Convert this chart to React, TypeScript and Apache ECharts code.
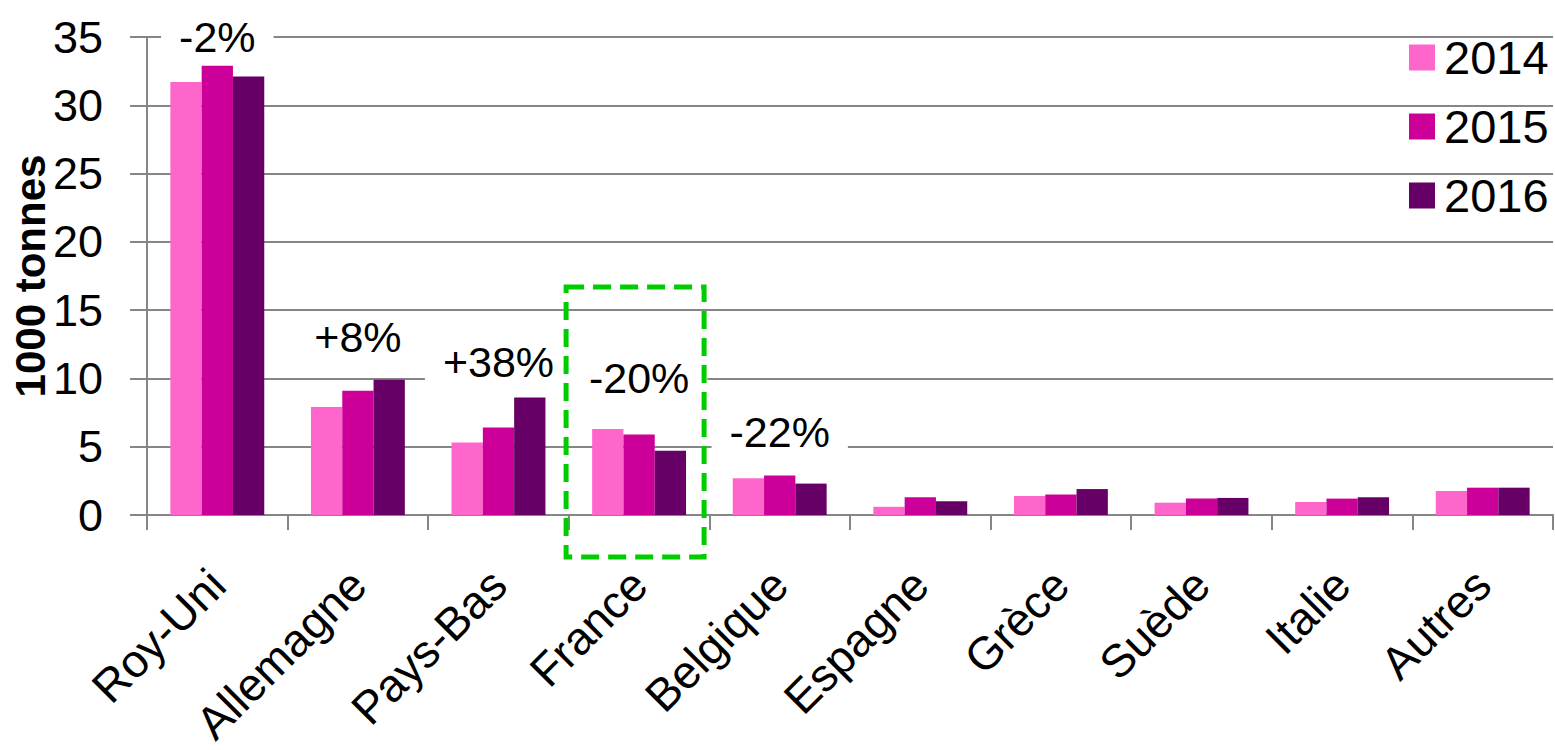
import React, { useEffect, useRef } from "react";
import * as echarts from "echarts";

const categories = ["Roy-Uni", "Allemagne", "Pays-Bas", "France", "Belgique", "Espagne", "Grèce", "Suède", "Italie", "Autres"];
const seriesNames = ["2014", "2015", "2016"];
const values2014 = [31.7, 7.9, 5.3, 6.3, 2.7, 0.6, 1.4, 0.9, 0.95, 1.75];
const values2015 = [32.9, 9.1, 6.4, 5.9, 2.9, 1.3, 1.5, 1.2, 1.2, 2.0];
const values2016 = [32.1, 9.9, 8.6, 4.7, 2.3, 1.0, 1.9, 1.25, 1.3, 2.0];
const changeLabels = ["-2%", "+8%", "+38%", "-20%", "-22%"];
const changeLabelY = [35, 13, 11.2, 10, 6.1];
const highlightIndex = 3;
const highlightTop = 16.7;

const colors = ["#FF66CC", "#CC0099", "#660066"];
const FONT = "'Liberation Sans', Arial, sans-serif";
const GRAY = "#868686";

export default function App() {
  const ref = useRef<HTMLDivElement>(null);
  useEffect(() => {
    if (!ref.current) return;
    const chart = echarts.init(ref.current, undefined, { renderer: "svg" });
    const allValues = [values2014, values2015, values2016];
    chart.setOption({
      animation: false,
      textStyle: { fontFamily: FONT },
      grid: { left: 147, right: 2, top: 37, bottom: 235, containLabel: false, outerBoundsMode: "none" },
      legend: {
        data: seriesNames,
        orient: "vertical",
        left: 1409,
        top: 34,
        padding: 0,
        itemWidth: 26,
        itemHeight: 26,
        itemGap: 22,
        icon: "rect",
        selectedMode: false,
        textStyle: { fontSize: 47, lineHeight: 46, color: "#000", fontFamily: FONT, padding: [0, 0, 0, 4] },
      },
      xAxis: {
        type: "category",
        data: categories,
        axisLine: { lineStyle: { color: GRAY, width: 2 } },
        axisTick: { show: true, length: 15, lineStyle: { color: GRAY, width: 2 } },
        axisLabel: { rotate: 45, fontSize: 46, color: "#000", margin: 62, fontFamily: FONT, interval: 0 },
      },
      yAxis: {
        type: "value",
        min: 0,
        max: 35,
        interval: 5,
        name: "1000 tonnes",
        nameLocation: "middle",
        nameGap: 95,
        nameMoveOverlap: false,
        nameTextStyle: { fontSize: 42, lineHeight: 44, fontWeight: "bold", color: "#000", fontFamily: FONT },
        axisLine: { show: true, lineStyle: { color: GRAY, width: 2 } },
        axisTick: { show: true, length: 17, lineStyle: { color: GRAY, width: 2 } },
        axisLabel: { fontSize: 45, color: "#000", margin: 44, fontFamily: FONT },
        splitLine: { lineStyle: { color: GRAY, width: 2 } },
      },
      series: [
        ...seriesNames.map((name, i) => ({
          name,
          type: "bar",
          data: allValues[i],
          barWidth: 31.3,
          barGap: "0%",
          itemStyle: { color: colors[i] },
        })),
        {
          name: "change",
          type: "scatter",
          clip: false,
          symbolSize: 1,
          itemStyle: { color: "rgba(0,0,0,0)", opacity: 1 },
          data: changeLabels.map((t, i) => ({ value: [categories[i], changeLabelY[i]], label: { formatter: t } })),
          label: {
            show: true,
            position: "inside",
            fontSize: 43,
            color: "#000",
            opacity: 1,
            fontFamily: FONT,
            backgroundColor: "#fff",
            padding: [2, 18],
          },
          z: 5,
        },
      ],
    });
    const cx = chart.convertToPixel({ xAxisIndex: 0 }, highlightIndex) as number;
    const yTop = chart.convertToPixel({ yAxisIndex: 0 }, highlightTop) as number;
    const y0 = chart.convertToPixel({ yAxisIndex: 0 }, 0) as number;
    chart.setOption({
      graphic: [
        {
          type: "rect",
          z: 100,
          shape: { x: cx - 73, y: yTop, width: 138, height: y0 + 42 - yTop },
          style: { fill: "none", stroke: "#00CC00", lineWidth: 5, lineDash: [18, 9] },
        },
      ],
    });
    return () => chart.dispose();
  }, []);
  return <div ref={ref} style={{ position: "fixed", left: 0, top: 0, width: 1555, height: 750, background: "#fff" }} />;
}
